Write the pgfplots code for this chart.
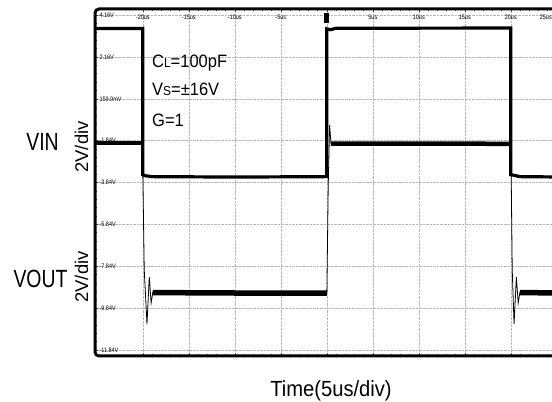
\documentclass[border=0pt]{standalone}
\usepackage{fontspec}
\setmainfont{Liberation Sans}
\newfontfamily\narrowA[FakeStretch=0.78]{Liberation Sans}
\newfontfamily\narrowB[FakeStretch=0.92]{Liberation Sans}
\newfontfamily\narrowT[FakeStretch=0.85]{Liberation Sans}
\usepackage{pgfplots}
\pgfplotsset{compat=1.18}
\begin{document}
\begin{tikzpicture}
\begin{axis}[
  set layers=standard,
  at={(95bp,46bp)}, anchor=south west,
  scale only axis, width=471.04bp, height=347bp,
  xmin=-25.2, xmax=26, ymin=-12.13, ymax=4.45,
  clip=false,
  axis line style={draw=none},
  xtick={-20,-15,-10,-5,0,5,10,15,20,25},
  xticklabels={-20us,-15us,-10us,-5us,,5us,10us,15us,20us,\hspace*{-22bp}25us},
  ytick={4.16,2.16,0.16,-1.84,-3.84,-5.84,-7.84,-9.84,-11.84},
  yticklabels={\raisebox{-3bp}{4.16V},2.16V,159.9mV,-1.84V,-3.84V,-5.84V,-7.84V,-9.84V,-11.84V},
  minor x tick num=4, minor y tick num=4,
  tick align=inside,
  major tick length=3bp, minor tick length=2bp,
  tick style={black!70, line width=0.5bp},
  xticklabel pos=right,
  xticklabel style={anchor=center, yshift=-8bp, font=\narrowT\fontsize{6.5}{6.5}\selectfont},
  yticklabel style={anchor=west, xshift=1bp, font=\narrowT\fontsize{6.5}{6.5}\selectfont},
  grid=major,
  major grid style={densely dotted, black!28, line width=0.5bp},
]
% VIN trace
\addplot[black, line width=3.2bp, line join=miter, on layer=axis foreground] coordinates {
(-25.2,3.52) (-20,3.52) (-20,-3.47) (-19.7,-3.52) (-19,-3.56) (-10,-3.58) (0,-3.56)
(0,3.50) (0.4,3.46) (1,3.53) (20,3.54) (20,-3.47) (20.4,-3.50) (21,-3.56) (26,-3.58)};
% VOUT trace (full path, thin)
\addplot[black, line width=0.8bp, on layer=axis foreground] coordinates {
(-25.2,-1.95) (-20.05,-1.95) (-19.85,-8.0) (-19.55,-10.6) (-19.3,-8.35) (-19.1,-9.6) (-18.9,-9.05)
(0,-9.12) (0.15,-4.0) (0.3,-1.09) (0.45,-1.98) (20,-1.99)
(20.15,-8.0) (20.35,-10.6) (20.6,-8.35) (20.8,-9.6) (21.0,-9.05) (26,-9.12)};
% VOUT flat segments (noise band)
\addplot[black, line width=4.5bp, on layer=axis foreground] coordinates {(-25.2,-1.95) (-20.05,-1.95)};
\addplot[black, line width=4.5bp, on layer=axis foreground] coordinates {(0.45,-1.98) (20,-1.99)};
\addplot[black, line width=5.5bp, on layer=axis foreground] coordinates {(-18.9,-9.1) (-10,-9.12) (0,-9.12)};
\addplot[black, line width=5.5bp, on layer=axis foreground] coordinates {(21.0,-9.1) (26,-9.12)};
% center crosshair ticks
\pgfplotsinvokeforeach{-25,...,26}{\draw[black!60,line width=0.5bp] (axis cs:#1,-3.84) ++(0,-1.5bp) -- ++(0,3bp);}
\pgfplotsinvokeforeach{0,...,40}{\draw[black!60,line width=0.5bp] (axis cs:0,{-11.84+0.4*#1}) ++(-1.5bp,0) -- ++(3bp,0);}
% trigger marker
\fill[black] (axis cs:0,4.02) ++(-2.5bp,-5bp) rectangle ++(5bp,10bp);
% frame
\draw[line width=3bp, rounded corners=4bp] (rel axis cs:1.2,0) -- (rel axis cs:0,0) -- (rel axis cs:0,1) -- (rel axis cs:1.2,1);
\end{axis}
\node[anchor=base west, font=\narrowB\fontsize{18}{18}\selectfont, inner sep=0] at (152bp,334bp) {C{\fontsize{13}{13}\selectfont L}=100pF};
\node[anchor=base west, font=\narrowB\fontsize{18}{18}\selectfont, inner sep=0] at (152bp,306bp) {V{\fontsize{13}{13}\selectfont S}=±16V};
\node[anchor=base west, font=\narrowB\fontsize{18}{18}\selectfont, inner sep=0] at (152bp,275bp) {G=1};
\node[anchor=base, font=\narrowA\fontsize{25}{25}\selectfont, inner sep=0] at (42.5bp,251bp) {VIN};
\node[anchor=base, font=\narrowA\fontsize{25}{25}\selectfont, inner sep=0] at (40.5bp,114bp) {VOUT};
\node[anchor=base, rotate=90, font=\fontsize{18.5}{18.5}\selectfont, inner sep=0] at (88bp,255bp) {2V/div};
\node[anchor=base, rotate=90, font=\fontsize{18.5}{18.5}\selectfont, inner sep=0] at (88bp,125bp) {2V/div};
\node[anchor=base, font=\narrowB\fontsize{22}{22}\selectfont, inner sep=0] at (331bp,6bp) {Time(5us/div)};
\pgfresetboundingbox
\useasboundingbox (0,0) rectangle (552bp,402bp);
\end{tikzpicture}
\end{document}
